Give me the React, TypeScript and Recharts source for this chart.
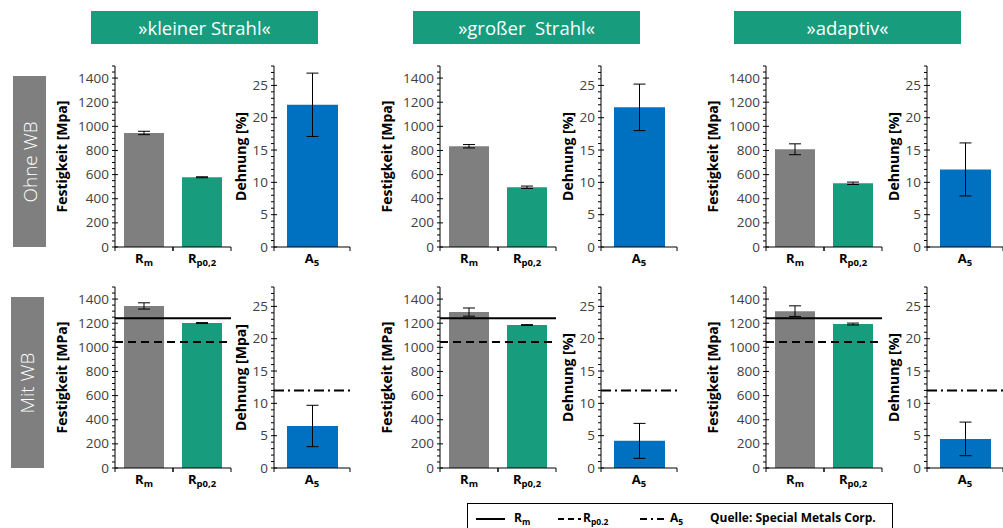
import { BarChart, Bar, XAxis, YAxis, ErrorBar, Cell, ReferenceLine, Label } from "recharts";

const variants = ["»kleiner Strahl«", "»großer  Strahl«", "»adaptiv«"];
const rowLabels = ["Ohne WB", "Mit WB"];
const strengthCats = ["R_m", "R_p0,2"];
const elongCats = ["A_5"];

// Ohne WB
const rmOhne = [945, 835, 810];
const rmOhneErr = [14, 14, 45];
const rpOhne = [578, 495, 528];
const rpOhneErr = [4, 10, 10];
const a5Ohne = [22.0, 21.6, 12.0];
const a5OhneErr = [4.9, 3.6, 4.1];

// Mit WB
const rmMit = [1343, 1292, 1300];
const rmMitErr = [26, 34, 44];
const rpMit = [1201, 1185, 1193];
const rpMitErr = [4, 3, 8];
const a5Mit = [6.5, 4.2, 4.5];
const a5MitErr = [3.2, 2.7, 2.6];

// Mindestwerte (Quelle: Special Metals Corp.)
const specRm = 1240;
const specRp = 1045;
const specA5 = 12;

const strengthTitles = [
  ["Festigkeit [Mpa]", "Festigkeit [Mpa]", "Festigkeit [Mpa]"],
  ["Festigkeit [MPa]", "Festigkeit [MPa]", "Festigkeit [Mpa]"],
];
const elongTitles = [
  ["Dehnung [%]", "Dehnung [%]", "Dehnung [%]"],
  ["Dehnung [Mpa]", "Dehnung [%]", "Dehnung [%]"],
];

const strengthTicks = [0, 50, 100, 150, 200, 250, 300, 350, 400, 450, 500, 550, 600, 650, 700, 750, 800, 850, 900, 950, 1000, 1050, 1100, 1150, 1200, 1250, 1300, 1350, 1400, 1450, 1500];
const elongTicks = [0, 1, 2, 3, 4, 5, 6, 7, 8, 9, 10, 11, 12, 13, 14, 15, 16, 17, 18, 19, 20, 21, 22, 23, 24, 25, 26, 27, 28];

const GRAY = "#7f7f7f";
const GREEN = "#179c7d";
const BLUE = "#0070c0";
const FONT = "'Open Sans', sans-serif";

// layout
const strengthLeft = [115, 440, 766];
const elongLeft = [274, 601, 927];
const rowTop = [66, 287];
const plotH = 181;
const strengthW = 116;
const elongW = 76;
const topPad = 6;
const xH = 30;

function YTick(props: any) {
  const { x, y, payload, step, maxLabel } = props;
  const v = payload.value;
  const major = v % step === 0;
  return (
    <g>
      {major ? (
        <line x1={x - 3} x2={x + 3} y1={y} y2={y} stroke="#000" strokeWidth={1} />
      ) : (
        <line x1={x - 3} x2={x} y1={y} y2={y} stroke="#000" strokeWidth={1} />
      )}
      {major && v <= maxLabel && (
        <text x={x - 6} y={y} dy={4.5} textAnchor="end" fontSize={13.5} fill="#404040" fontFamily={FONT}>
          {v}
        </text>
      )}
    </g>
  );
}

function XTick(props: any) {
  const { x, y, payload, band } = props;
  const [main, sub] = String(payload.value).split("_");
  return (
    <g>
      <line x1={x - band / 2} x2={x - band / 2} y1={y} y2={y + 4} stroke="#000" />
      <line x1={x + band / 2} x2={x + band / 2} y1={y} y2={y + 4} stroke="#000" />
      <text x={x} y={y + 16} textAnchor="middle" fontSize={13} fontWeight={700} fill="#000" fontFamily={FONT}>
        {main}
        <tspan fontSize={9.5} dy={3}>{sub}</tspan>
      </text>
    </g>
  );
}

type PanelProps = {
  left: number;
  top: number;
  plotW: number;
  yW: number;
  data: { name: string; v: number; e: number }[];
  colors: string[];
  domain: number[];
  ticks: number[];
  step: number;
  maxLabel: number;
  title: string;
  barSize: number;
  refs: { y: number; dash: string }[];
};

function Panel(p: PanelProps) {
  const band = p.plotW / p.data.length;
  return (
    <div style={{ position: "absolute", left: p.left - p.yW, top: p.top - topPad }}>
      <BarChart
        width={p.yW + p.plotW + 8}
        height={topPad + plotH + xH}
        data={p.data}
        margin={{ top: topPad, right: 8, left: 0, bottom: 0 }}
        barSize={p.barSize}
      >
        <XAxis
          dataKey="name"
          height={xH}
          axisLine={{ stroke: "#000" }}
          tickLine={false}
          tickSize={0}
          tickMargin={0}
          interval={0}
          tick={(t: any) => <XTick {...t} band={band} />}
        />
        <YAxis
          width={p.yW}
          domain={p.domain}
          ticks={p.ticks}
          interval={0}
          axisLine={{ stroke: "#000" }}
          tickLine={false}
          tickSize={0}
          tickMargin={0}
          tick={(t: any) => <YTick {...t} step={p.step} maxLabel={p.maxLabel} />}
        >
          <Label
            value={p.title}
            angle={-90}
            position="center"
            style={{ fontSize: 14, fontWeight: 700, fill: "#000", fontFamily: FONT }}
          />
        </YAxis>
        <Bar dataKey="v" isAnimationActive={false}>
          {p.data.map((d, i) => (
            <Cell key={d.name} fill={p.colors[i]} />
          ))}
          <ErrorBar dataKey="e" width={6} stroke="#000" strokeWidth={1} />
        </Bar>
        {p.refs.map((r) => (
          <ReferenceLine key={r.y} y={r.y} stroke="#000" strokeWidth={2} strokeDasharray={r.dash} ifOverflow="visible" />
        ))}
      </BarChart>
    </div>
  );
}

export default function App() {
  const rows = [
    { rm: rmOhne, rmE: rmOhneErr, rp: rpOhne, rpE: rpOhneErr, a5: a5Ohne, a5E: a5OhneErr, withSpec: false },
    { rm: rmMit, rmE: rmMitErr, rp: rpMit, rpE: rpMitErr, a5: a5Mit, a5E: a5MitErr, withSpec: true },
  ];
  const headerLeft = [91, 413, 734];
  const rowBox = [
    { left: 13, top: 76, height: 171 },
    { left: 11, top: 297, height: 171 },
  ];

  return (
    <div
      style={{
        position: "absolute",
        left: 0,
        top: 0,
        width: 1003,
        height: 528,
        overflow: "hidden",
        background: "#fff",
        fontFamily: FONT,
      }}
    >
      {variants.map((v, i) => (
        <div
          key={v}
          style={{
            position: "absolute",
            left: headerLeft[i],
            top: 11,
            width: 227,
            height: 33,
            background: GREEN,
            color: "#fff",
            fontSize: 18.5,
            display: "flex",
            alignItems: "center",
            justifyContent: "center",
            whiteSpace: "pre",
          }}
        >
          {v}
        </div>
      ))}

      {rowLabels.map((r, i) => (
        <div
          key={r}
          style={{
            position: "absolute",
            left: rowBox[i].left,
            top: rowBox[i].top,
            width: 33,
            height: rowBox[i].height,
            background: GRAY,
            color: "#fff",
            display: "flex",
            alignItems: "center",
            justifyContent: "center",
          }}
        >
          <div style={{ transform: "rotate(-90deg)", whiteSpace: "nowrap", fontSize: 19, fontWeight: 300 }}>{r}</div>
        </div>
      ))}

      {rows.map((row, ri) =>
        variants.map((_, ci) => (
          <div key={`${ri}-${ci}`}>
            <Panel
              left={strengthLeft[ci]}
              top={rowTop[ri]}
              plotW={strengthW}
              yW={105}
              data={[
                { name: strengthCats[0], v: row.rm[ci], e: row.rmE[ci] },
                { name: strengthCats[1], v: row.rp[ci], e: row.rpE[ci] },
              ]}
              colors={[GRAY, GREEN]}
              domain={[0, 1500]}
              ticks={strengthTicks}
              step={200}
              maxLabel={1400}
              title={strengthTitles[ri][ci]}
              barSize={40}
              refs={row.withSpec ? [{ y: specRm, dash: "" }, { y: specRp, dash: "8 5" }] : []}
            />
            <Panel
              left={elongLeft[ci]}
              top={rowTop[ri]}
              plotW={elongW}
              yW={65}
              data={[{ name: elongCats[0], v: row.a5[ci], e: row.a5E[ci] }]}
              colors={[BLUE]}
              domain={[0, 28]}
              ticks={elongTicks}
              step={5}
              maxLabel={25}
              title={elongTitles[ri][ci]}
              barSize={51}
              refs={row.withSpec ? [{ y: specA5, dash: "10 4 2 4" }] : []}
            />
          </div>
        ))
      )}

      <svg style={{ position: "absolute", left: 467, top: 503 }} width={430} height={25}>
        <rect x={0.5} y={0.5} width={425} height={40} fill="none" stroke="#000" strokeWidth={1} />
        <g fontFamily={FONT} fontSize={12} fontWeight={700} fill="#000">
          <line x1={9} x2={38} y1={16} y2={16} stroke="#000" strokeWidth={2} />
          <text x={47} y={19}>
            R<tspan fontSize={8.5} dy={2.5}>m</tspan>
          </text>
          <line x1={91} x2={114} y1={16} y2={16} stroke="#000" strokeWidth={2} strokeDasharray="6 4" />
          <text x={116} y={19}>
            R<tspan fontSize={8.5} dy={2.5}>p0.2</tspan>
          </text>
          <line x1={173} x2={201} y1={16} y2={16} stroke="#000" strokeWidth={2} strokeDasharray="7 4 2 4" />
          <text x={203} y={19}>
            A<tspan fontSize={8.5} dy={2.5}>5</tspan>
          </text>
          <text x={243} y={19}>Quelle: Special Metals Corp.</text>
        </g>
      </svg>
    </div>
  );
}
